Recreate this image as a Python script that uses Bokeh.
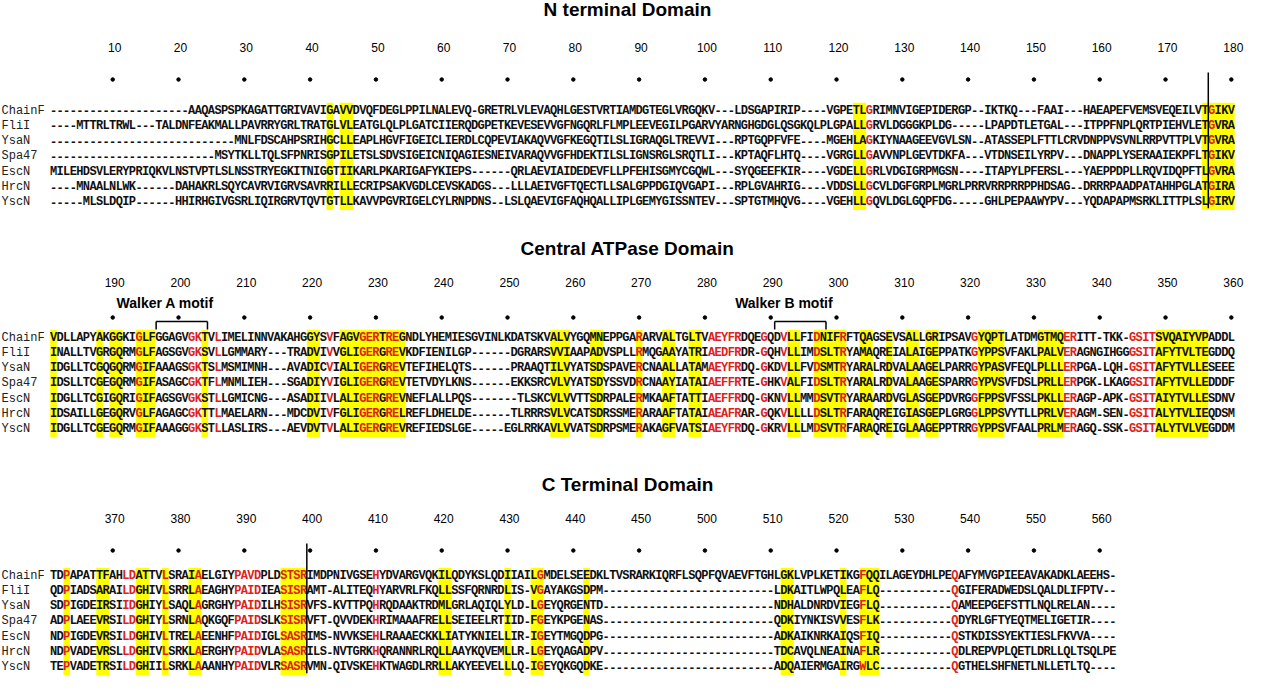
from bokeh.plotting import figure
from bokeh.models import Range1d, ColumnDataSource
from bokeh.core.properties import value
from bokeh.embed import file_html
from bokeh.resources import INLINE

# ---------------- data ----------------
names = ["ChainF", "FliI", "YsaN", "Spa47", "EscN", "HrcN", "YscN"]

seq_n = [
    "---------------------AAQASPSPKAGATTGRIVAVIGAVVDVQFDEGLPPILNALEVQ-GRETRLVLEVAQHLGESTVRTIAMDGTEGLVRGQKV---LDSGAPIRIP----VGPETLGRIMNVIGEPIDERGP--IKTKQ---FAAI---HAEAPEFVEMSVEQEILVTGIKV",
    "----MTTRLTRWL---TALDNFEAKMALLPAVRRYGRLTRATGLVLEATGLQLPLGATCIIERQDGPETKEVESEVVGFNGQRLFLMPLEEVEGILPGARVYARNGHGDGLQSGKQLPLGPALLGRVLDGGGKPLDG-----LPAPDTLETGAL---ITPPFNPLQRTPIEHVLETGVRA",
    "----------------------------MNLFDSCAHPSRIHGCLLEAPLHGVFIGEICLIERDLCQPEVIAKAQVVGFKEGQTILSLIGRAQGLTREVVI---RPTGQPFVFE----MGEHLAGKIYNAAGEEVGVLSN--ATASSEPLFTTLCRVDNPPVSVNLRRPVTTPLVTGVRA",
    "-------------------------MSYTKLLTQLSFPNRISGPILETSLSDVSIGEICNIQAGIESNEIVARAQVVGFHDEKTILSLIGNSRGLSRQTLI---KPTAQFLHTQ----VGRGLLGAVVNPLGEVTDKFA---VTDNSEILYRPV---DNAPPLYSERAAIEKPFLTGIKV",
    "MILEHDSVLERYPRIQKVLNSTVPTLSLNSSTRYEGKITNIGGTIIKARLPKARIGAFYKIEPS------QRLAEVIAIDEDEVFLLPFEHISGMYCGQWL---SYQGEEFKIR----VGDELLGRLVDGIGRPMGSN----ITAPYLPFERSL---YAEPPDPLLRQVIDQPFTLGVRA",
    "----MNAALNLWK------DAHAKRLSQYCAVRVIGRVSAVRRILLECRIPSAKVGDLCEVSKADGS---LLLAEIVGFTQECTLLSALGPPDGIQVGAPI---RPLGVAHRIG----VDDSLLGCVLDGFGRPLMGRLPRRVRRPRRPPHDSAG--DRRRPAADPATAHHPGLATGIRA",
    "-----MLSLDQIP------HHIRHGIVGSRLIQIRGRVTQVTGTLLKAVVPGVRIGELCYLRNPDNS--LSLQAEVIGFAQHQALLIPLGEMYGISSNTEV---SPTGTMHQVG----VGEHLLGQVLDGLGQPFDG-----GHLPEPAAWYPV---YQDAPAPMSRKLITTPLSLGIRV",
]

seq_c = [
    "VDLLAPYAKGGKIGLFGGAGVGKTVLIMELINNVAKAHGGYSVFAGVGERTREGNDLYHEMIESGVINLKDATSKVALVYGQMNEPPGARARVALTGLTVAEYFRDQEGQDVLLFIDNIFRFTQAGSEVSALLGRIPSAVGYQPTLATDMGTMQERITT-TKK-GSITSVQAIYVPADDL",
    "INALLTVGRGQRMGLFAGSGVGKSVLLGMMARY---TRADVIVVGLIGERGREVKDFIENILGP------DGRARSVVIAAPADVSPLLRMQGAAYATRIAEDFRDR-GQHVLLIMDSLTRYAMAQREIALAIGEPPATKGYPPSVFAKLPALVERAGNGIHGGGSITAFYTVLTEGDDQ",
    "IDGLLTCGQGQRMGIFAAAGSGKTSLMSMIMNH---AVADICVIALIGERGREVTEFIHELQTS------PRAAQTILVYATSDSPAVERCNAALLATAMAEYFRDQ-GKDVLLFVDSMTRYARALRDVALAAGELPARRGYPASVFEQLPLLLERPGA-LQH-GSITAFYTVLLESEEE",
    "IDSLLTCGEGQRMGIFASAGCGKTFLMNMLIEH---SGADIYVIGLIGERGREVTETVDYLKNS------EKKSRCVLVYATSDYSSVDRCNAAYIATAIAEFFRTE-GHKVALFIDSLTRYARALRDVALAAGESPARRGYPVSVFDSLPRLLERPGK-LKAGGSITAFYTVLLEDDDF",
    "IDGLLTCGIGQRIGIFAGSGVGKSTLLGMICNG---ASADIIVLALIGERGREVNEFLALLPQS-------TLSKCVLVVTTSDRPALERMKAAFTATTIAEFFRDQ-GKNVLLMMDSVTRYARAARDVGLASGEPDVRGGFPPSVFSSLPKLLERAGP-APK-GSITAIYTVLLESDNV",
    "IDSAILLGEGQRVGLFAGAGCGKTTLMAELARN---MDCDVIVFGLIGERGRELREFLDHELDE------TLRRRSVLVCATSDRSSMERARAAFTATAIAEAFRAR-GQKVLLLLDSLTRFARAQREIGIASGEPLGRGGLPPSVYTLLPRLVERAGM-SEN-GSITALYTVLIEQDSM",
    "IDGLLTCGEGQRMGIFAAAGGGKSTLLASLIRS---AEVDVTVLALIGERGREVREFIEDSLGE-----EGLRRKAVLVVATSDRPSMERAKAGFVATSIAEYFRDQ-GKRVLLLMDSVTRFARAQREIGLAAGEPPTRRGYPPSVFAALPRLMERAGQ-SSK-GSITALYTVLVEGDDM",
]

seq_ct = [
    "TDPAPATTFAHLDATTVLSRAIAELGIYPAVDPLDSTSRIMDPNIVGSEHYDVARGVQKILQDYKSLQDIIAILGMDELSEEDKLTVSRARKIQRFLSQPFQVAEVFTGHLGKLVPLKETIKGFQQILAGEYDHLPEQAFYMVGPIEEAVAKADKLAEEHS-",
    "QDPIADSARAILDGHIVLSRRLAEAGHYPAIDIEASISRAMT-ALITEQHYARVRLFKQLLSSFQRNRDLIS-VGAYAKGSDPM--------------------------LDKAITLWPQLEAFLQ-----------QGIFERADWEDSLQALDLIFPTV--",
    "SDPIGDEIRSIIDGHIYLSAQLAGRGHYPAIDILHSISRVFS-KVTTPQHRQDAAKTRDMLGRLAQIQLYLD-LGEYQRGENTD--------------------------NDHALDNRDVIEGFLQ-----------QAMEEPGEFSTTLNQLRELAN----",
    "ADPLAEEVRSILDGHIYLSRNLAQKGQFPAIDSLKSISRVFT-QVVDEKHRIMAAAFRELLSEIEELRTIID-FGEYKPGENAS--------------------------QDKIYNKISVVESFLK-----------QDYRLGFTYEQTMELIGETIR----",
    "NDPIGDEVRSILDGHIVLTRELAEENHFPAIDIGLSASRIMS-NVVKSEHLRAAAECKKLIATYKNIELLIR-IGEYTMGQDPG--------------------------ADKAIKNRKAIQSFIQ-----------QSTKDISSYEKTIESLFKVVA----",
    "NDPVADEVRSLLDGHIVLSRKLAERGHYPAIDVLASASRILS-NVTGRKHQRANNRLRQLLAAYKQVEMLLR-LGEYQAGADPV--------------------------TDCAVQLNEAINAFLR-----------QDLREPVPLQETLDRLLQLTSQLPE",
    "TEPVADETRSILDGHIILSRKLAAANHYPAIDVLRSASRVMN-QIVSKEHKTWAGDLRRLLAKYEEVELLLQ-IGEYQKGQDKE--------------------------ADQAIERMGAIRGWLC-----------QGTHELSHFNETLNLLETLTQ----",
]

titles = ["N terminal Domain", "Central ATPase Domain", "C Terminal Domain"]

ticks_n = ["10", "20", "30", "40", "50", "60", "70", "80", "90", "100",
           "110", "120", "130", "140", "150", "160", "170", "180"]
ticks_c = ["190", "200", "210", "220", "230", "240", "250", "260", "270", "280",
           "290", "300", "310", "320", "330", "340", "350", "360"]
ticks_ct = ["370", "380", "390", "400", "410", "420", "430", "440", "450", "500",
            "510", "520", "530", "540", "550", "560"]

# alignment columns (1-based, within each block) shaded yellow / printed red
yellow_n = [43, 45, 46, 123, 124, 176, 177, 178, 179, 180]
red_n = [125, 177]
yellow_c = [1, 8, 10, 11, 14, 15, 16, 24, 40, 41, 45, 46, 47, 48, 49, 50, 51, 52, 53, 54,
            77, 78, 79, 83, 84, 90, 94, 95, 98, 99, 113, 114, 117, 118, 119, 120, 121,
            124, 125, 128, 131, 132, 134, 135, 142, 143, 144, 145, 151, 152, 153, 154,
            169, 170, 171, 172, 173, 174, 175, 176]
red_c = [14, 22, 23, 26, 43, 48, 49, 50, 52, 53, 90, 101, 102, 103, 104, 105, 109, 112,
         117, 121, 141, 155, 156, 165, 166, 167, 168]
yellow_ct = [3, 8, 9, 14, 15, 18, 22, 23, 36, 37, 38, 39, 60, 61, 70, 74, 75, 82,
             112, 113, 121, 124, 125, 126]
red_ct = [3, 12, 13, 18, 23, 29, 30, 31, 32, 36, 37, 38, 39, 50, 75, 124, 138]

motif_labels = ["Walker A motif", "Walker B motif"]
motif_first = [17, 111]
motif_last = [24, 118]

divider_cols = [176.5, None, 39.5]

# ---------------- layout (pixels / styles) ----------------
W, H = 1246, 678
X0 = 61.0 - 8      # centre of column 1 in plot px
CW = 6.58          # px per alignment column
TITLE_Y = [17, 256, 492]
NUM_Y = [55, 290, 526]
DOT_Y = [87, 325, 558]
ROW0_Y = [118, 345, 583]
DY = 15.3
RED = "#e0201b"
YEL = "#ffff00"

def px2col(px):
    return 1 + (px - X0) / CW

p = figure(width=W, height=H, output_backend="svg", toolbar_location=None,
           x_range=Range1d(px2col(0), px2col(W)), y_range=Range1d(H + 8, 8),
           min_border=0, outline_line_color=None)
p.axis.visible = False
p.grid.visible = False
p.background_fill_color = "white"
p.border_fill_color = "white"

blocks = [(seq_n, yellow_n, red_n, ticks_n), (seq_c, yellow_c, red_c, ticks_c),
          (seq_ct, yellow_ct, red_ct, ticks_ct)]

cx, cy, ct, cc = [], [], [], []
ql, qr, qt, qb = [], [], [], []
lx, ly, lt = [], [], []
tx, ty, tt = [], [], []
dx, dy = [], []
for b, (seqs, ycols, rcols, ticks) in enumerate(blocks):
    y0 = ROW0_Y[b]
    ylast = y0 + DY * (len(names) - 1)
    cols = sorted(ycols)
    runs = []
    for c in cols:
        if runs and c == runs[-1][1] + 1:
            runs[-1][1] = c
        else:
            runs.append([c, c])
    for a, e in runs:
        ql.append(a - 0.5); qr.append(e + 0.5)
        qt.append(y0 - DY / 2); qb.append(ylast + DY / 2)
    for r, s in enumerate(seqs):
        yy = y0 + r * DY
        lx.append(px2col(1)); ly.append(yy); lt.append(names[r])
        for i, ch in enumerate(s):
            c = i + 1
            cx.append(c); cy.append(yy); ct.append(ch)
            cc.append(RED if (c in rcols and ch != "-") else "#111111")
    for k, lab in enumerate(ticks):
        col = 10 * (k + 1)
        tx.append(col + 0.3); ty.append(NUM_Y[b]); tt.append(lab)
        dx.append(col); dy.append(DOT_Y[b])

p.quad(left=ql, right=qr, top=qt, bottom=qb, fill_color=YEL, line_color=None)

src = ColumnDataSource(dict(x=cx, y=cy, t=ct, c=cc))
p.text(x="x", y="y", text="t", text_color="c", source=src, text_align="center",
       text_baseline="middle", text_font=value("Liberation Mono"),
       text_font_size="12px", text_font_style="bold")
p.text(x=lx, y=ly, text=lt, text_align="left", text_baseline="middle",
       text_font=value("Liberation Mono"), text_font_size="12px", text_color="#222222")
p.text(x=tx, y=ty, text=tt, text_align="center", text_baseline="middle",
       text_font=value("Liberation Sans"), text_font_size="12px", text_color="black")
p.scatter(x=dx, y=dy, marker="circle", size=3.5, color="black")

# titles
p.text(x=[px2col(W / 2 + 4)] * 3, y=TITLE_Y, text=titles, text_align="center",
       text_baseline="middle", text_font=value("Liberation Sans"),
       text_font_size="19px", text_font_style="bold", text_color="black")

# motif labels and brackets
BR_TOP, BR_BOT, MOT_Y = 329, 337, 310
mx = [(a + e) / 2 - 2.5 for a, e in zip(motif_first, motif_last)]
p.text(x=mx, y=[MOT_Y] * 2, text=motif_labels, text_align="center",
       text_baseline="middle", text_font=value("Liberation Sans"),
       text_font_size="14px", text_font_style="bold", text_color="black")
sx0, sy0, sx1, sy1 = [], [], [], []
for a, e in zip(motif_first, motif_last):
    sx0 += [a - 0.4, a - 0.4, e + 0.4]; sx1 += [e + 0.4, a - 0.4, e + 0.4]
    sy0 += [BR_TOP, BR_TOP, BR_TOP]; sy1 += [BR_TOP, BR_BOT, BR_BOT]
p.segment(x0=sx0, y0=sy0, x1=sx1, y1=sy1, line_color="black", line_width=1.5)

# domain dividers
vx, vy0, vy1 = [], [], []
for b, col in enumerate(divider_cols):
    if col is None:
        continue
    vx.append(col); vy0.append(DOT_Y[b] - 7)
    vy1.append(ROW0_Y[b] + DY * (len(names) - 1) + 6)
p.segment(x0=vx, y0=vy0, x1=vx, y1=vy1, line_color="black", line_width=1.5)

open("out.html", "w").write(file_html(p, INLINE))
